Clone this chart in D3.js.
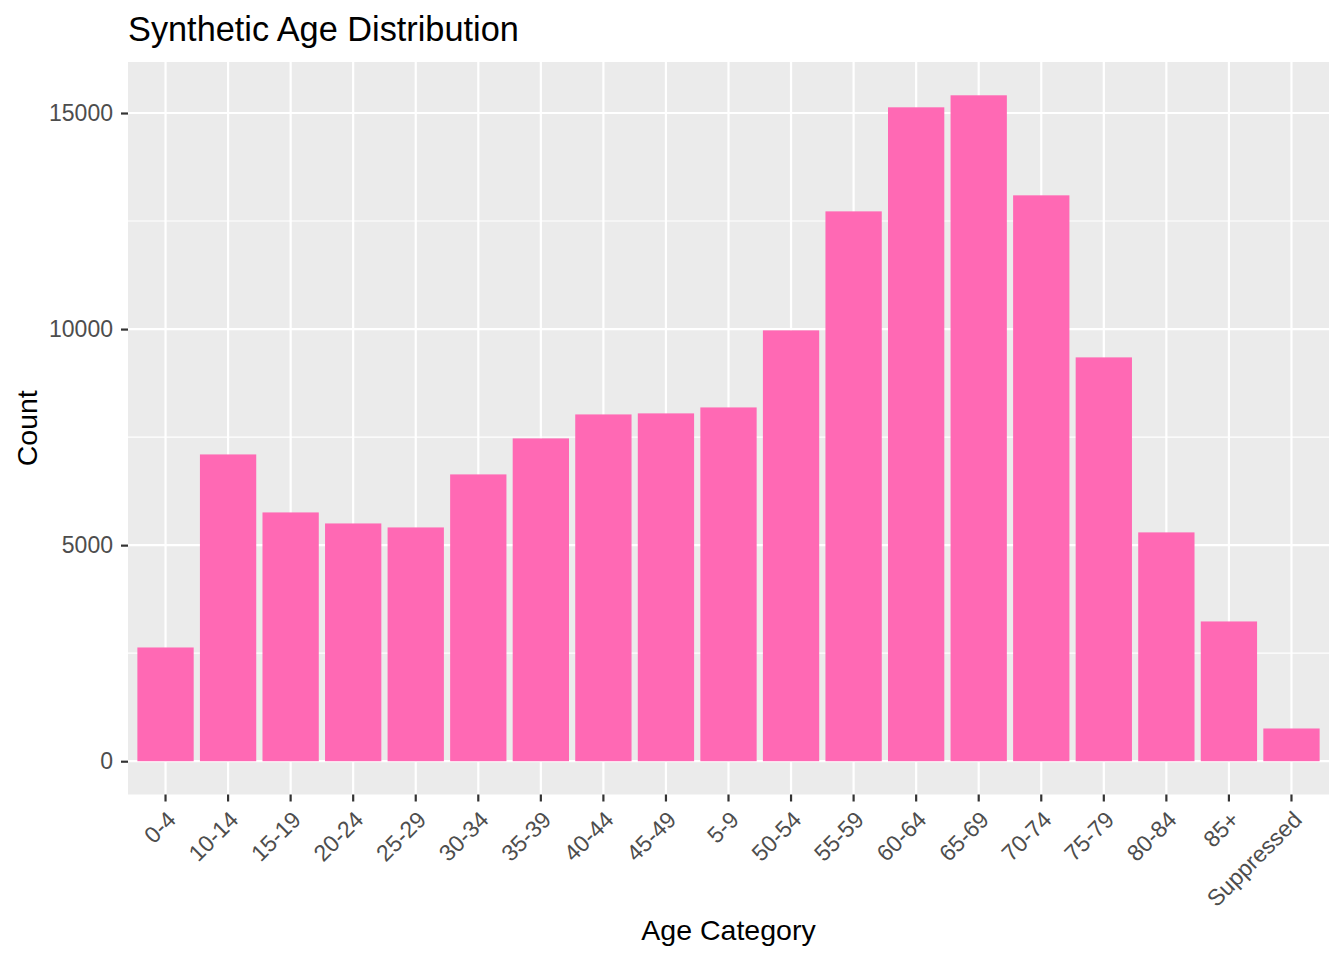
<!DOCTYPE html>
<html>
<head>
<meta charset="utf-8">
<script src="https://cdn.jsdelivr.net/npm/d3@7"></script>
<style>
  body { margin: 0; background: #fff; }
  svg { display: block; font-family: "Liberation Sans", Arial, sans-serif; }
</style>
</head>
<body>
<svg id="chart" width="1344" height="960"></svg>
<script>
const categories = ["0-4","10-14","15-19","20-24","25-29","30-34","35-39","40-44","45-49","5-9","50-54","55-59","60-64","65-69","70-74","75-79","80-84","85+","Suppressed"];
const counts = [2632,7099,5757,5502,5410,6637,7470,8025,8049,8187,9970,12724,15132,15410,13095,9345,5295,3234,757];
const yMajorTicks = [0,5000,10000,15000];
const yMinorTicks = [2500,7500,12500];
const titleText = "Synthetic Age Distribution";
const xTitle = "Age Category";
const yTitle = "Count";

const svg = d3.select("#chart");
const panel = {left: 128, right: 1329, top: 62, bottom: 794.5};

const maxV = d3.max(counts);
const y = d3.scaleLinear().domain([-0.05*maxV, 1.05*maxV]).range([panel.bottom, panel.top]);
const x = d3.scaleBand().domain(categories).range([panel.left, panel.right]).paddingInner(0.1).paddingOuter(0.15);

// panel background
svg.append("rect").attr("x", panel.left).attr("y", panel.top)
  .attr("width", panel.right-panel.left).attr("height", panel.bottom-panel.top)
  .attr("fill", "#EBEBEB");

// minor grid
svg.append("g").selectAll("line").data(yMinorTicks).join("line")
  .attr("x1", panel.left).attr("x2", panel.right)
  .attr("y1", d=>y(d)).attr("y2", d=>y(d))
  .attr("stroke", "#fff").attr("stroke-width", 1.1);
// major grid
svg.append("g").selectAll("line").data(yMajorTicks).join("line")
  .attr("x1", panel.left).attr("x2", panel.right)
  .attr("y1", d=>y(d)).attr("y2", d=>y(d))
  .attr("stroke", "#fff").attr("stroke-width", 2.2);
svg.append("g").selectAll("line").data(categories).join("line")
  .attr("x1", d=>x(d)+x.bandwidth()/2).attr("x2", d=>x(d)+x.bandwidth()/2)
  .attr("y1", panel.top).attr("y2", panel.bottom)
  .attr("stroke", "#fff").attr("stroke-width", 2.2);

// bars
svg.append("g").selectAll("rect").data(categories).join("rect")
  .attr("x", d=>x(d)).attr("width", x.bandwidth())
  .attr("y", (d,i)=>y(counts[i]))
  .attr("height", (d,i)=>y(0)-y(counts[i]))
  .attr("fill", "#FF69B4");

// y axis
const yAxis = d3.axisLeft(y).tickValues(yMajorTicks).tickSize(7).tickPadding(8).tickFormat(d3.format("d"));
const gy = svg.append("g").attr("transform", `translate(${panel.left},0)`).call(yAxis);
gy.select(".domain").remove();
gy.selectAll(".tick line").attr("stroke", "#333333").attr("stroke-width", 2.2);
gy.selectAll(".tick text").attr("fill", "#4D4D4D").attr("font-size", "23px")
  .attr("font-family", "Liberation Sans, Arial, sans-serif");

// x axis
const xAxis = d3.axisBottom(x).tickSize(7).tickPadding(6);
const gx = svg.append("g").attr("transform", `translate(0,${panel.bottom})`).call(xAxis);
gx.select(".domain").remove();
gx.selectAll(".tick line").attr("stroke", "#333333").attr("stroke-width", 2.2);
gx.selectAll(".tick text")
  .attr("fill", "#4D4D4D").attr("font-size", "23px")
  .attr("font-family", "Liberation Sans, Arial, sans-serif")
  .attr("text-anchor", "end")
  .attr("y", 0).attr("dy", "0.72em")
  .attr("transform", "translate(0,15) rotate(-45)");

// title
svg.append("text").attr("x", panel.left).attr("y", 41)
  .attr("font-size", "34.3px").attr("fill", "#000").text(titleText);

// axis titles
svg.append("text").attr("x", (panel.left+panel.right)/2).attr("y", 940)
  .attr("text-anchor", "middle").attr("font-size", "28.5px").attr("fill", "#000").text(xTitle);
svg.append("text").attr("transform", `translate(37,${(panel.top+panel.bottom)/2}) rotate(-90)`)
  .attr("text-anchor", "middle").attr("font-size", "28.5px").attr("fill", "#000").text(yTitle);
</script>
</body>
</html>
